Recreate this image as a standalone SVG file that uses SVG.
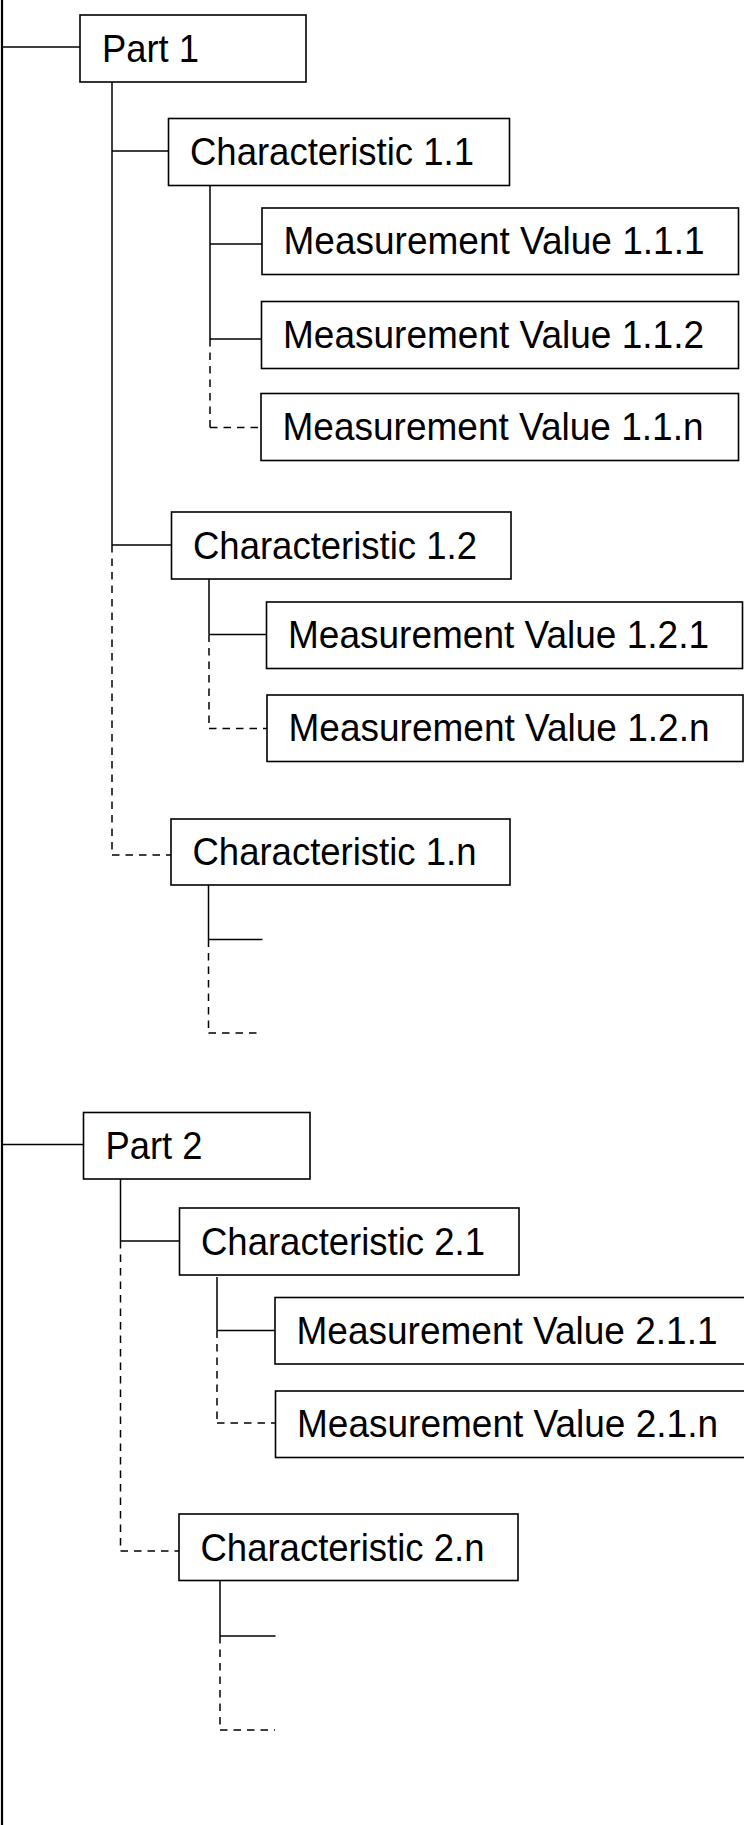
<svg xmlns="http://www.w3.org/2000/svg" width="744" height="1825" viewBox="0 0 744 1825">
  <style>
    .box { fill: #ffffff; stroke: #000000; stroke-width: 1.6; }
    .lbl { font-family: "Liberation Sans", Arial, Helvetica, sans-serif; font-size: 38.5px; fill: #000000; }
    .ln { fill: none; stroke: #000000; stroke-width: 1.5; }
    .dash { fill: none; stroke: #000000; stroke-width: 1.5; stroke-dasharray: 7.5 6; }
    .spine { fill: none; stroke: #000000; stroke-width: 2.2; }
  </style>

  <!-- connectors -->
  <g id="connectors">
    <!-- root spine -->
    <line class="spine" x1="2" y1="0" x2="2" y2="1825"/>

    <!-- Part 1 -->
    <line class="ln" x1="3" y1="47" x2="80" y2="47"/>
    <line class="ln" x1="112" y1="82" x2="112" y2="545"/>
    <line class="dash" x1="112" y1="545" x2="112" y2="855"/>

    <!-- Characteristic 1.1 -->
    <line class="ln" x1="112" y1="151" x2="168.5" y2="151"/>
    <line class="ln" x1="210" y1="185" x2="210" y2="339"/>
    <line class="dash" x1="210" y1="339" x2="210" y2="427.5"/>
    <line class="ln" x1="210" y1="244" x2="262" y2="244"/>
    <line class="ln" x1="210" y1="339" x2="261.5" y2="339"/>
    <line class="dash" x1="210" y1="427.5" x2="261" y2="427.5"/>

    <!-- Characteristic 1.2 -->
    <line class="ln" x1="112" y1="545" x2="171.5" y2="545"/>
    <line class="ln" x1="209" y1="579" x2="209" y2="634.5"/>
    <line class="dash" x1="209" y1="634.5" x2="209" y2="728.5"/>
    <line class="ln" x1="209" y1="634.5" x2="266.5" y2="634.5"/>
    <line class="dash" x1="209" y1="728.5" x2="267" y2="728.5"/>

    <!-- Characteristic 1.n -->
    <line class="dash" x1="112" y1="855" x2="171" y2="855"/>
    <line class="ln" x1="208.5" y1="885" x2="208.5" y2="939.5"/>
    <line class="dash" x1="208.5" y1="939.5" x2="208.5" y2="1033"/>
    <line class="ln" x1="208.5" y1="939.5" x2="262.5" y2="939.5"/>
    <line class="dash" x1="208.5" y1="1033" x2="262" y2="1033"/>

    <!-- Part 2 -->
    <line class="ln" x1="3" y1="1144.5" x2="83.5" y2="1144.5"/>
    <line class="ln" x1="120.5" y1="1179" x2="120.5" y2="1241"/>
    <line class="dash" x1="120.5" y1="1241" x2="120.5" y2="1551"/>

    <!-- Characteristic 2.1 -->
    <line class="ln" x1="120.5" y1="1241" x2="179.5" y2="1241"/>
    <line class="ln" x1="217" y1="1277" x2="217" y2="1330.5"/>
    <line class="dash" x1="217" y1="1330.5" x2="217" y2="1423"/>
    <line class="ln" x1="217" y1="1330.5" x2="275" y2="1330.5"/>
    <line class="dash" x1="217" y1="1423" x2="275.5" y2="1423"/>

    <!-- Characteristic 2.n -->
    <line class="dash" x1="120.5" y1="1551" x2="179" y2="1551"/>
    <line class="ln" x1="220" y1="1581" x2="220" y2="1636"/>
    <line class="dash" x1="220" y1="1636" x2="220" y2="1730"/>
    <line class="ln" x1="220" y1="1636" x2="275.5" y2="1636"/>
    <line class="dash" x1="220" y1="1730" x2="275" y2="1730"/>
  </g>

  <!-- nodes -->
  <g id="part-1">
    <rect class="box" x="80" y="15" width="226" height="67"/>
    <text class="lbl" x="102" y="62" textLength="97" lengthAdjust="spacingAndGlyphs">Part 1</text>
  </g>
  <g id="characteristic-1-1">
    <rect class="box" x="168.5" y="118.5" width="341" height="67"/>
    <text class="lbl" x="190" y="165" textLength="284" lengthAdjust="spacingAndGlyphs">Characteristic 1.1</text>
  </g>
  <g id="measurement-1-1-1">
    <rect class="box" x="262" y="208" width="476.5" height="66.5"/>
    <text class="lbl" x="283.5" y="254" textLength="421" lengthAdjust="spacingAndGlyphs">Measurement Value 1.1.1</text>
  </g>
  <g id="measurement-1-1-2">
    <rect class="box" x="261.5" y="301.5" width="477" height="67"/>
    <text class="lbl" x="283" y="347.5" textLength="421" lengthAdjust="spacingAndGlyphs">Measurement Value 1.1.2</text>
  </g>
  <g id="measurement-1-1-n">
    <rect class="box" x="261" y="393.5" width="477.5" height="67"/>
    <text class="lbl" x="282.5" y="439.5" textLength="421" lengthAdjust="spacingAndGlyphs">Measurement Value 1.1.n</text>
  </g>
  <g id="characteristic-1-2">
    <rect class="box" x="171.5" y="512" width="339.5" height="67"/>
    <text class="lbl" x="193" y="558.5" textLength="284" lengthAdjust="spacingAndGlyphs">Characteristic 1.2</text>
  </g>
  <g id="measurement-1-2-1">
    <rect class="box" x="266.5" y="602" width="476" height="66.5"/>
    <text class="lbl" x="288" y="648" textLength="421" lengthAdjust="spacingAndGlyphs">Measurement Value 1.2.1</text>
  </g>
  <g id="measurement-1-2-n">
    <rect class="box" x="267" y="695" width="476" height="66.5"/>
    <text class="lbl" x="288.5" y="741" textLength="421" lengthAdjust="spacingAndGlyphs">Measurement Value 1.2.n</text>
  </g>
  <g id="characteristic-1-n">
    <rect class="box" x="171" y="819" width="339" height="66"/>
    <text class="lbl" x="192.5" y="865" textLength="284" lengthAdjust="spacingAndGlyphs">Characteristic 1.n</text>
  </g>
  <g id="part-2">
    <rect class="box" x="83.5" y="1112.5" width="226.5" height="66.5"/>
    <text class="lbl" x="105.5" y="1159" textLength="97" lengthAdjust="spacingAndGlyphs">Part 2</text>
  </g>
  <g id="characteristic-2-1">
    <rect class="box" x="179.5" y="1208" width="339.5" height="67"/>
    <text class="lbl" x="201" y="1254.5" textLength="284" lengthAdjust="spacingAndGlyphs">Characteristic 2.1</text>
  </g>
  <g id="measurement-2-1-1">
    <rect class="box" x="275" y="1297.5" width="480" height="66.5"/>
    <text class="lbl" x="296.5" y="1343.5" textLength="421" lengthAdjust="spacingAndGlyphs">Measurement Value 2.1.1</text>
  </g>
  <g id="measurement-2-1-n">
    <rect class="box" x="275.5" y="1391" width="480" height="66.5"/>
    <text class="lbl" x="297" y="1437" textLength="421" lengthAdjust="spacingAndGlyphs">Measurement Value 2.1.n</text>
  </g>
  <g id="characteristic-2-n">
    <rect class="box" x="179" y="1514" width="339" height="66.5"/>
    <text class="lbl" x="200.5" y="1560.5" textLength="284" lengthAdjust="spacingAndGlyphs">Characteristic 2.n</text>
  </g>
</svg>
